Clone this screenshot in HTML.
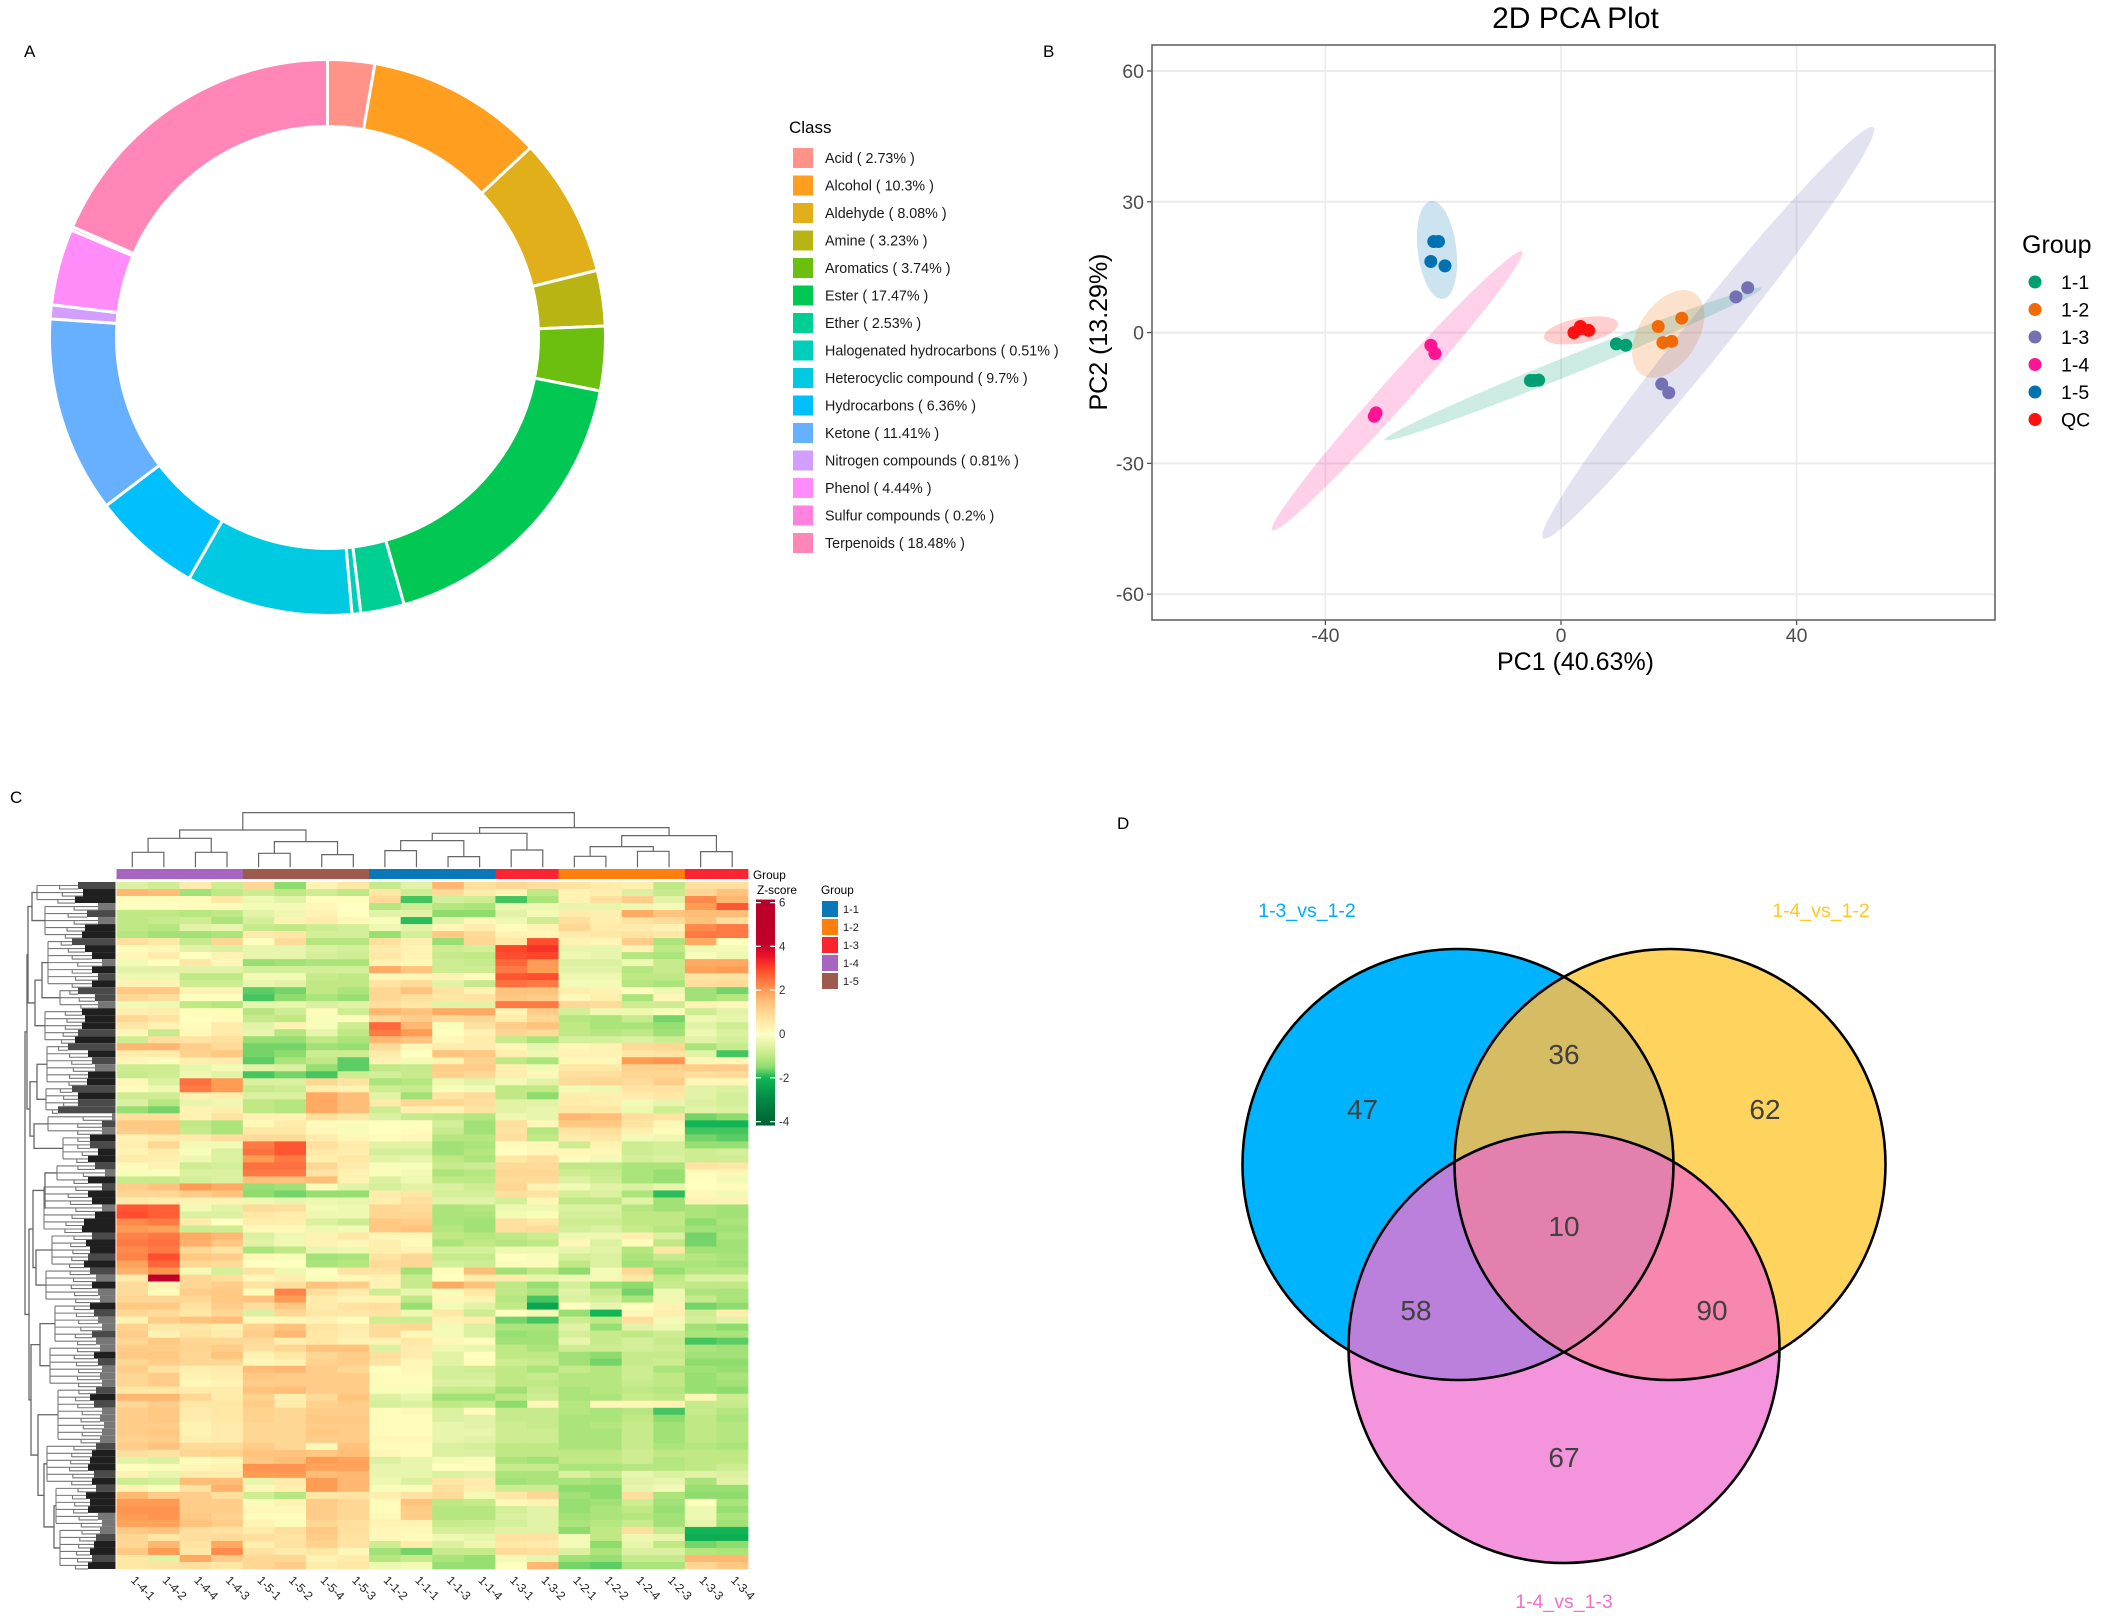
<!DOCTYPE html>
<html><head><meta charset="utf-8"><title>Metabolomics composite figure</title>
<style>
html,body{margin:0;padding:0;background:#fff}
svg{display:block;font-family:"Liberation Sans",sans-serif}
</style></head>
<body>
<svg id="fig" width="2101" height="1623" viewBox="0 0 2101 1623" xmlns="http://www.w3.org/2000/svg">
<defs>
<linearGradient id="zgrad" x1="0" y1="0" x2="0" y2="1"></linearGradient>
<clipPath id="c1"><circle cx="1458" cy="1164.5" r="215.5"/></clipPath>
<clipPath id="c2"><circle cx="1670" cy="1164.5" r="215.5"/></clipPath>
</defs>
<text x="24" y="57" font-size="17">A</text>
<text x="1043" y="57" font-size="17">B</text>
<text x="10" y="803" font-size="17">C</text>
<text x="1117" y="829" font-size="17">D</text>
<g id="donut"></g>
<g id="donutLegend"></g>
<g id="pca"></g>
<g id="heat"></g>
<g id="venn">
  <circle cx="1458" cy="1164.5" r="215.5" fill="#00B3FF"/>
  <circle cx="1670" cy="1164.5" r="215.5" fill="#FFD45E"/>
  <circle cx="1564" cy="1347.5" r="215.5" fill="#F394DC"/>
  <circle cx="1670" cy="1164.5" r="215.5" fill="#D6BC62" clip-path="url(#c1)"/>
  <circle cx="1564" cy="1347.5" r="215.5" fill="#BB80DC" clip-path="url(#c1)"/>
  <circle cx="1564" cy="1347.5" r="215.5" fill="#F787AE" clip-path="url(#c2)"/>
  <g clip-path="url(#c1)"><circle cx="1564" cy="1347.5" r="215.5" fill="#E480AE" clip-path="url(#c2)"/></g>
  <g fill="none" stroke="#000" stroke-width="2.6">
    <circle cx="1458" cy="1164.5" r="215.5"/>
    <circle cx="1670" cy="1164.5" r="215.5"/>
    <circle cx="1564" cy="1347.5" r="215.5"/>
  </g>
  <g font-size="28" fill="#404040" text-anchor="middle">
    <text x="1362.5" y="1119">47</text>
    <text x="1564" y="1064">36</text>
    <text x="1765" y="1119">62</text>
    <text x="1564" y="1236">10</text>
    <text x="1416" y="1320">58</text>
    <text x="1712" y="1320">90</text>
    <text x="1564" y="1467">67</text>
  </g>
  <g font-size="19.5" text-anchor="middle">
    <text x="1307" y="917" fill="#00AAFF">1-3_vs_1-2</text>
    <text x="1821" y="917" fill="#FFC823">1-4_vs_1-2</text>
    <text x="1564" y="1608" fill="#F070D0">1-4_vs_1-3</text>
  </g>
</g>
</svg>
<script>
/* ---------- Panel A data ---------- */
const classNames=["Acid","Alcohol","Aldehyde","Amine","Aromatics","Ester","Ether","Halogenated hydrocarbons","Heterocyclic compound","Hydrocarbons","Ketone","Nitrogen compounds","Phenol","Sulfur compounds","Terpenoids"];
const classShares=[2.73,10.3,8.08,3.23,3.74,17.47,2.53,0.51,9.7,6.36,11.41,0.81,4.44,0.2,18.48];
const classColors=["#FF9289","#FF9E1F","#E0AF1A","#B8B414","#6DBF0F","#00C853","#00CF94","#00CEBC","#00CAE2","#00BFFD","#66B0FF","#D29EFF","#FF8CF8","#FF82DD","#FF86B6"];

/* ---------- Panel B data ---------- */
const groupNames=["1-1","1-2","1-3","1-4","1-5","QC"];
const groupColors=["#009E73","#F06A05","#7570B3","#FF1493","#0072B2","#FF1010"];
const pc1Values=[[-5.2,-4.6,-3.8,9.4,11],[16.5,20.5,17.3,18.8],[29.7,31.7,17.1,18.3],[-22.1,-21.4,-31.7,-31.4],[-21.6,-20.8,-22.1,-19.7],[2.2,3.3,4.7,3.4]];
const pc2Values=[[-11,-11,-10.9,-2.6,-2.9],[1.4,3.3,-2.3,-2],[8.2,10.3,-11.8,-13.8],[-2.9,-4.8,-19.2,-18.4],[20.9,20.9,16.3,15.3],[0,1.4,0.5,0.9]];
const ellipseCx=[2.05,18.2,25,-27.8,-21.05,3.4];
const ellipseCy=[-7.2,-0.3,-0.05,-13.35,18.95,0.5];
const ellipseUx=[32.05,2.6,27.8,21.05,-0.85,6.3];
const ellipseUy=[17.4,10.06,47.25,32.05,11.25,1.44];
const ellipseVx=[0,5.55,4.7,3.2,3.3,0];
const ellipseVy=[2.3,0,0,0,0,2.9];
const pcaXTicks=[-40,0,40];
const pcaYTicks=[60,30,0,-30,-60];

/* ---------- Panel C data ---------- */
const colLabels=["1-4-1","1-4-2","1-4-4","1-4-3","1-5-1","1-5-2","1-5-4","1-5-3","1-1-2","1-1-1","1-1-3","1-1-4","1-3-1","1-3-2","1-2-1","1-2-2","1-2-4","1-2-3","1-3-3","1-3-4"];
const colGroups=["1-4","1-4","1-4","1-4","1-5","1-5","1-5","1-5","1-1","1-1","1-1","1-1","1-3","1-3","1-2","1-2","1-2","1-2","1-3","1-3"];
const heatGroupNames=["1-1","1-2","1-3","1-4","1-5"];
const heatGroupColors=["#0A78B8","#FF7F0E","#F82530","#A565C0","#9E5A4C"];
const zTicks=[6,4,2,0,-2,-4];
const zValues=[-4.2,-3,-2,-1.5,-1,-0.5,0,0.5,1,1.5,2,2.5,3,3.6,4.2,6.2];
const zColors=["#00602F","#008A45","#12B556","#8EDC6E","#C0E985","#E2F3A8","#FFFFBF","#FFEBAB","#FFD794","#FFBE78","#FF9C54","#FF7040","#FF4428","#E8102A","#C00028","#BA0028"];
/* merge height, child, child; leaves are [height, column, column] */
const topTree=[54.7,[37.3,[29,[15,0,1],[15,2,3]],[25.7,[14,4,5],[12.7,6,7]]],[39.7,[34,[26.7,[16.7,8,9],[10.7,10,11]],[17.3,12,13]],[31.7,[20.7,[11,14,15],[16,16,17]],[15.7,18,19]]]];
/* distance from the left page edge, child, child; leaves are [x, first row, end row] */
const leftTree=[25,[27,[28,[32,[37,0,3],[45,3,8]],[35,[42,[48,8,15],[60,15,18]],[45,18,23]]],[30,[37,[47,23,29],[46,29,33]],[34,[48,33,36],[63,36,40]]]],[29,[33,[45,[57,40,43],[44,43,50]],[36,[52,50,55],[46,55,60]]],[31,[40,[55,60,66],[50,66,72]],[38,[58,72,80],[44,[47,80,86],[54,[56,86,92],[60,92,98]]]]]]];
const leafEdge=[78,83,75,98,87,98,85,82,72,85,92,102,92,98,92,78,95,98,82,85,82,78,75,68,88,92,95,88,87,72,78,78,58,112,102,102,90,90,98,88,95,105,88,102,88,92,102,95,84,82,92,86,90,88,84,90,96,92,98,100,90,94,98,102,92,96,100,94,98,102,100,102,96,90,94,102,100,104,102,100,96,92,90,88,94,92,96,86,90,88,98,102,100,96,94,90,92,88];
const leafShade=[1,0,0,2,1,2,0,0,1,0,0,2,0,1,0,1,1,2,0,0,0,1,0,1,0,1,2,0,0,1,0,1,1,2,1,2,0,1,0,0,1,2,0,1,0,0,2,0,0,0,1,0,0,1,0,1,2,0,2,2,0,1,2,2,1,2,2,0,1,2,2,2,1,0,1,2,2,2,2,2,1,0,0,0,1,0,1,0,0,0,2,2,2,1,0,0,1,0];
const heatRows=[
[-.6,-.8,.5,-.8,1,-1.5,.3,.6,-.9,-.5,1.6,.8,1,.8,.7,.5,.4,-1,.8,.8],
[1.6,1.5,-1.3,-1,-.8,-1,-.8,-1,.6,-.8,.9,.5,.3,-1,.3,.4,-.6,-.9,1,1.4],
[.1,.1,.1,.6,-.3,-.5,.1,.1,.9,-1.8,-.7,-.8,-1.8,-1.2,.3,.8,1.2,-.5,2.2,1.6],
[0,0,.1,.1,-.2,-.2,.2,0,-1.1,-.8,-1.1,-1.2,-.3,-.3,-.4,-.4,-.3,-.2,2,2.8],
[-1,-1,-1.1,-1,-.5,-.3,.3,0,-.5,-.5,-1.5,-1.5,-.5,-.2,.5,.4,1.8,1.4,1.5,1.5],
[-1,-.9,-.8,-1.2,-.7,.3,.5,.2,-.1,-1.9,-.5,.2,-.3,-.8,.8,.4,.7,.9,1.4,.8],
[-1,-1.1,-.5,-.4,-.9,-1,-.8,-.7,-.3,-.5,.2,.5,.1,.3,1,.5,.5,.3,2.2,2.4],
[-1.1,-1.3,-1.3,-1.2,.5,.6,-.7,-.7,-1.4,-.7,1.3,.9,.3,.2,.5,.6,.7,.6,2.4,2.4],
[.8,.6,-.9,1,0,.9,-1.1,-1.1,.8,.4,-1.4,1,.6,2.9,.3,.2,1.2,-1.2,1.8,0],
[.1,.2,-.5,-.6,-.4,-.4,-.6,-.7,.5,.3,-.8,-.7,3,3.2,-.4,-.4,.3,-1,-.3,-.2],
[.2,.5,0,.3,-.4,-.4,-.7,-.8,.6,.3,-.9,-1,2.9,3,-.3,-.4,-1.1,-1.2,-.1,-.3],
[-.2,0,.6,.2,-1.4,-1.3,-1.2,-1.2,.3,.2,-.8,-.9,2.6,2,-.6,-.6,-.3,-.9,1.8,1.8],
[-.5,-.5,-.5,-.5,-.7,-.7,-.7,-.7,1.8,1.4,-.8,-.8,2.4,2,-.5,-.5,-1.1,-.9,1.9,2],
[-.3,-.3,-1,-1,-.2,-.2,-.9,-1,.2,.2,.3,.1,2.8,2.9,-.3,-.3,-1,-1,.7,.7],
[.3,.3,-.8,-.8,-.4,-.5,-1,-1,.7,.9,-.5,-.9,2.5,2.4,-.2,-.2,-1.1,-1.2,.8,.9],
[1.3,1.3,.3,.3,-1.7,-1.6,-1,-1.2,1,1.4,.7,.3,1.4,1.4,.4,.3,.1,-.3,-1.3,-1.6],
[1,.8,0,0,-1.8,-1.5,-1.2,-1.4,1,.8,.6,.7,1.3,1.2,.2,.4,-1.2,.2,-1.3,-1.1],
[-.2,-.3,-1,-1.1,-.4,-.4,-.6,-.5,.8,.6,-.5,-.5,2.4,2.4,1,.9,-.8,-.8,.3,.2],
[.4,.5,.1,.1,-1.1,-.8,.1,-.8,1.6,1.4,1.8,1.8,.3,1.2,-.7,-.3,-.3,-.1,-.8,-.5],
[1,.7,0,.1,-.9,-1,-.1,.1,.9,1.2,.9,1,.5,1,-1.1,-1.2,-.9,-1.6,-.3,-.4],
[.6,.3,.1,.5,-.5,.3,-.1,-.8,2.6,1.6,-.1,.7,1.2,1.4,-1,-1.2,-1.2,-1.4,-.5,-.8],
[.2,-.9,.2,.5,-.4,-1.1,-.4,-1,2.4,2,0,.3,1,.9,-1,-1.1,-1,-1.3,-.3,-.6],
[-.8,.8,.7,.8,-1.4,-1.4,-1,-1.2,1.6,1.4,.2,.5,-.9,-1.2,-.7,-.7,-.6,-.8,-.5,-.7],
[1.6,1.6,1.2,.9,-1.6,-1.6,-1.3,-1.4,.9,.2,.5,.5,.2,-.4,.2,.3,.9,1,-1.2,-.9],
[.5,.5,1.1,1.3,-1.6,-1.5,-.8,-.8,.5,0,1.4,1.3,.4,-.3,.3,.3,.6,.7,-.5,-1.8],
[.2,.1,.4,.5,-1.7,-1.2,-1,-1.7,.3,-.2,.3,1.1,-1,-1.2,.2,.2,2,2.1,.2,.2],
[-.8,-.8,-.4,-.2,-.5,-.6,-1.4,-1.7,-1,-.9,1.2,1.2,.4,-.2,.6,.6,1.1,1.1,1.2,1.2],
[-.9,-.8,-.3,-.5,-1.8,-1.6,-1.8,-.8,-.7,-.9,1.1,1,.4,.2,.8,.8,1,1,.8,.9],
[.2,-.6,2.5,2,-.6,-.6,1,.7,-1.2,-1.1,-.3,-.5,-.2,-.5,.9,1,.9,1.2,.2,.2],
[.1,-.3,2.4,2,-.9,-.8,.4,.3,-.8,-.9,-.1,-.2,-1,-1,-.2,-.3,.7,.7,-.5,-.6],
[-.8,-.8,.3,.4,-.6,-.6,1.8,1.5,-.5,-1.3,.7,.9,-1,-1.5,.4,.4,.5,.6,-.5,-.7],
[-.6,-1.1,-.4,-.3,-1,-1.1,1.8,1.5,.5,1,1,.8,-.5,-.5,.5,.4,-.2,-.4,-.6,-.7],
[-1.4,-1.6,.3,.4,-1,-1.1,1.8,1.5,-.8,.4,.3,.7,-.5,-.4,.6,.6,-.3,-.8,-.5,-.6],
[.8,.8,.3,.7,.3,.3,.8,.6,-.6,-.9,-1,-1.1,-.3,-.4,1.6,1.5,.8,.7,-1.6,-1.5],
[1.3,1.3,-1,-1.2,.2,.5,.1,-.1,0,0,-.7,-1.3,.8,.2,1.3,1.3,.7,.2,-2,-2],
[1.2,1.3,-.9,-1.2,.6,.6,.2,-.1,0,.1,-.9,-1.3,.7,-1.1,.7,.8,.4,.1,-1.8,-1.8],
[.3,.5,.5,.8,.9,.9,.5,.2,.1,.2,-1.1,-1.1,.8,-1,.5,.6,-.2,-.3,-1.6,-1.7],
[.4,1,-.2,-.2,2.4,2.8,.8,.5,-.5,-.5,-1.3,-1.2,.1,.2,-.8,.3,-.8,-.7,-1.4,-1.4],
[.3,.5,-.1,-.6,2.5,2.8,.6,.4,-.7,-.7,-1.3,-1.1,0,.2,.2,.2,-.8,-.7,-.8,-.7],
[.5,.4,-.3,-.6,2,2.4,.4,.6,-.5,-.4,-1,-1.2,.6,.8,.1,-.2,-.7,-.6,-.8,-.8],
[.1,.3,-.8,-.7,2.5,2.5,1,.5,-.1,-.1,-.9,-.8,.9,.9,-1,-1,-1.2,-1.2,.7,.6],
[-.1,-.1,-.6,-.6,2.4,2.4,.7,.3,-.1,-.2,-1.2,-1.1,1,1,-.8,-.9,-1.2,-1.4,.1,.2],
[-.9,-.9,-.7,-.6,1.4,1.4,1.5,.3,-.6,-.3,-1,-1,.9,.9,-.6,-.8,-1.2,-1.4,0,-.2],
[1.2,1.4,2,1.8,-1.4,-1.3,-.1,-.5,-.7,-.5,-.6,-.8,1,.3,-.2,-.5,-.6,-.4,0,.1],
[1,1,1.2,1.4,-1.5,-1.6,-1.4,-1.4,.5,.6,-.7,-.7,.8,.7,-.7,-.6,-1.2,-1.9,.2,-.2],
[.5,.4,.3,.3,-.3,-.4,-.3,-.4,.4,.8,-.5,-.5,-.7,.2,-1,-1,-.5,-1.3,.3,.3],
[2.8,2.7,-.2,-.5,.9,.8,-.2,-.3,1,.9,-1.2,-1.1,-.3,-.3,-.6,-.6,-1.1,-1.3,-1.2,-1.3],
[2.9,2.7,-.6,-.6,.6,.5,-.3,-.3,1,1,-1.2,-1.2,-.2,-.1,-.7,-.7,-1,-1,-1.2,-1.3],
[2.2,2.4,.5,0,.4,.4,-.6,-.8,1.3,1.2,-1.2,-1.3,.8,.6,-.8,-.8,-1,-1,-1.5,-1.2],
[2,1.9,-.8,-.8,.2,.2,-.3,-.2,1.3,1.4,-1.1,-1.3,.8,.9,-.7,-.6,-.9,-1.1,-1.3,-1.3],
[2.3,2.4,1.8,1.6,-.6,-.3,.3,.6,.2,.2,-1,-1.1,-1,-.8,-.3,-.3,.4,-.6,-1.6,-1.2],
[2.4,2.5,1.7,1.3,-.5,-.3,.3,.2,.4,.1,-1.2,-1,-1.1,-1,.2,-.6,.1,-1,-1.6,-1.3],
[2.2,2.4,1,.7,-1.2,-1,-.4,-.3,.4,.3,-.7,-.7,-.3,-.3,-.4,-.5,-1.1,.6,-1.3,-1.3],
[2.3,2.9,1.3,1.2,.2,-.1,-1.3,-1.2,.7,1,-.9,-.9,0,-.1,-.7,-.6,-1.2,-.9,-1.1,-1.2],
[1.9,2.6,1,.9,0,0,-1.2,-1.1,.9,1,-.7,-.8,-.1,.1,-1,-.6,-1.3,-1.2,-1.2,-1.3],
[1.7,2.1,-.2,-.7,.7,-.3,0,.7,.7,-1.3,.1,1.5,-1.3,-1,-1.5,-.2,1,-1.4,-1.1,-1.1],
[.5,4.2,1,.8,.2,.4,-.1,.2,.3,-.9,0,.5,.5,-.4,-.3,-.2,.6,-1,-.6,-.6],
[.9,.3,1,1.2,.7,.8,1.4,1.2,.3,-.9,1.8,1.4,-1,-1.4,-.7,-1.3,-1.5,-.9,-1,-1],
[.9,.1,1.2,1.3,.1,2.3,.8,.5,-.8,-.4,-.1,.6,-1,-1.2,-.5,-.9,-1.6,-.3,-1.2,-1.2],
[1,1,1,1.3,1.4,2,.5,.3,.3,-1,.2,.3,-1.1,-1.8,-.6,-.7,-1.2,-.3,-.9,-1.2],
[1.3,1.3,.7,1.2,.8,1.3,.5,.7,.8,-1.4,-.2,-.5,-1,-2.4,0,-.4,0,.3,-1.6,-1.5],
[1,.9,.6,1,-.6,1,.6,.6,.7,-.3,.6,-.8,0,-.2,-1.4,-2,.2,.4,-.8,.4],
[.3,1.2,1.4,1.5,.2,.2,.3,.1,-.8,-.8,.3,.5,-1.6,-1.8,-.8,-1,.8,-.2,-.7,-.5],
[1.1,.6,.6,.4,1.1,1.4,.7,.5,.9,1,-.2,-.6,-1.2,-1.2,-.5,-1.4,-.5,-.3,-1.3,-1.5],
[1.2,.3,.7,.5,1.2,1.6,.6,.4,.9,.2,-.2,-.6,-1.4,-1.3,-.7,-.9,-1,-.8,-1.2,-1.2],
[1,1.3,1,1,.9,.4,.6,.3,.3,.6,.2,.1,-1.3,-1.3,-.4,-.9,-.7,-.9,-1.8,-1.7],
[1.2,1.2,1.1,1.2,.8,1,1.4,1.4,-.6,.5,-.3,-.4,-1,-1.2,-.8,-.8,-.7,-.8,-1.2,-1.3],
[1.3,1.3,1,1.4,.3,.6,1,1.2,.8,.5,-.5,0,-1,-1,-1.3,-1.5,-.9,-.9,-1.3,-1.3],
[1,1.2,1,1,.2,.3,1.1,1.2,.7,.2,-.5,.1,-.8,-.9,-1.3,-1.6,-.9,-.8,-1.5,-1.5],
[1.2,.7,.4,.5,1.5,1.6,1.2,1,0,.2,-.7,-.8,-1,-1.2,-.9,-1.1,-.8,-1.2,-1.3,-1.4],
[1,1.2,.3,.4,1.3,1.2,1.2,1.2,.1,.1,-.7,-.7,-1,-.9,-1.1,-1.1,-.8,-1,-1.4,-1.2],
[1,1.2,.2,.3,1.2,1.2,1.2,1.2,.1,.1,-.6,-.6,-1,-1,-1.1,-1.1,-.9,-1,-1.4,-1.3],
[.6,.6,.5,.5,1.4,1.5,1.2,1.2,-.1,-.1,-.9,-.9,-1.3,-.9,-1.2,-1.1,-1,-1.1,-1.4,-1.5],
[1.6,1.6,1,.5,1.1,.4,.9,1.4,-.6,-.4,-1.3,-1.3,-1,-.8,-1.2,-1.2,-.9,-1,.2,-.8],
[1,1.2,.6,.6,1.2,.5,1.1,1.2,-.7,-.6,-1,-.9,-1.5,.2,-1.1,.2,.2,.3,-.9,-.9],
[1.2,1.3,.5,.6,1.1,1,1.2,1.2,.1,.2,-.6,.1,-.9,-.9,-1.1,-1.2,-1.1,-1.8,-.9,-1.1],
[1.2,1.3,.5,.6,1.1,1,1.3,1.3,.1,.1,-.6,-.5,-.9,-.9,-1.2,-1.2,-1,-1.5,-1,-1.2],
[1.2,1.2,.3,.5,1,1,1.2,1.2,.1,.1,-.4,-.5,-.8,-.9,-1.2,-1.1,-.9,-1.3,-1,-1.1],
[1.2,1.3,.3,.5,1,1,1.3,1.2,.1,.1,-.4,-.4,-.8,-.8,-1.2,-1.2,-.9,-1.3,-1,-1.1],
[1.1,1.2,.4,.5,1,1,1.2,1.2,.2,.2,-.4,-.5,-.8,-.8,-1.2,-1.2,-.9,-1.3,-1,-1.1],
[1.2,1.4,.9,.9,1.2,1,.2,1.4,.1,.1,-.6,-.7,-1,-1,-1.2,-1.2,-.9,-1.2,-1.1,-1.2],
[.8,.7,1,1.1,1.4,1.4,1.3,1.5,.2,.1,-.6,-.6,-1,-1,-1,-1,-.8,-1,-1,-1],
[-.5,-.6,.1,.2,1.3,1.5,2,1.9,-.6,-.4,-.2,-.1,-1.2,-1.3,-1,-1,-.8,-1.1,-1,-1],
[0,-.1,.2,.3,2.1,2.1,1.9,1.9,-.4,-.4,0,.1,-.9,-.9,-1.2,-1.2,-1.1,-1.1,-1,-.8],
[.3,-.4,.5,.5,2,2,1.5,1.6,-.4,-.4,-.6,-.5,-1.2,-1.2,-.6,-.9,-.4,-.6,-.5,-.6],
[-.8,-.7,1.5,1.5,-.4,.5,2,1.6,-.3,-.6,.6,.5,-1.3,-1.2,-1.2,-1.3,-.5,-.4,-1.2,-.5],
[.3,-.1,.7,1.7,.2,.4,2,1.6,-.1,-.1,.8,.5,-.8,-.8,-1.5,-1.5,-.4,-.2,-1.4,-1.4],
[1.6,1.2,1.2,.8,-.8,-1.1,.6,.7,.4,.7,.9,-.2,.6,1,-1.3,-1.5,.8,-1.2,-1.5,-1.5],
[2,2,1.2,1.2,-.1,.3,1.2,1,.1,1.4,-1,-.9,.2,.3,-1.4,-1.3,-.8,-1.3,0,-1.2],
[2.1,2.1,1.2,1.2,.2,.2,1.2,1,.1,1.2,-1.1,-1.1,-.7,-.5,-1.4,-1.2,-1,-1.4,-.3,-1.4],
[2,2.1,1.3,1.1,.1,.1,1.2,1,.2,1.2,-1.1,-1.1,-.6,-.5,-1.3,-1.2,-1.1,-1.3,-.3,-1.2],
[1.9,1.9,1.4,1.2,.3,-.1,1,.8,.3,.3,-.9,-.8,-.7,-.5,-1.2,-1.1,-.9,-1.3,-.4,-1.3],
[1.3,1.4,.8,.7,.5,.8,1.3,.8,.2,.2,-.7,-.7,-.5,-.5,-1.5,-1,.8,-.9,-2,-2],
[1,.6,.8,.9,.8,.7,1.2,.7,.2,.1,-.3,-.4,.7,.7,-.2,-1,-.3,-.4,-2.2,-2.2],
[1,1.6,.7,1.8,.4,.7,1.1,.7,-.8,.5,-.6,-.3,.6,.5,-.2,-1.5,-.4,-1,-1.6,-1.5],
[1.3,2,.6,2.2,.7,.5,.6,.2,-1.3,-1.6,-.9,-.9,.9,.8,-.6,-1.2,-.6,-.6,-1.1,-1.2],
[.6,-.5,1.8,1.2,1,1,.3,.5,-1.1,-.9,-1.2,-1.4,-.2,-.4,-1.3,-1.4,-.9,-.9,1.6,1.6],
[.6,.7,.8,.6,1,1.2,.5,.6,-.3,-.2,-1.4,-1.4,0,1.6,-1.6,-1.7,-1.2,-1.2,1,1.3]
];

/* ---------- helpers ---------- */
const NS="http://www.w3.org/2000/svg";
function mk(tag,attrs,parent,txt){
  const e=document.createElementNS(NS,tag);
  for(const k in attrs)e.setAttribute(k,attrs[k]);
  if(txt!==undefined)e.textContent=txt;
  parent.appendChild(e);
  return e;
}

/* ---------- Panel A ---------- */
(function(){
  const cx=327.5,cy=337.5,R=278,r=211;
  const total=classShares.reduce((a,b)=>a+b,0);
  const g=document.getElementById('donut');
  let acc=0;
  classShares.forEach(function(v,i){
    const a0=acc/total*2*Math.PI; acc+=v; const a1=acc/total*2*Math.PI;
    const large=(a1-a0)>Math.PI?1:0;
    const p=(rad,a)=>(cx+rad*Math.sin(a)).toFixed(2)+' '+(cy-rad*Math.cos(a)).toFixed(2);
    const d='M'+p(R,a0)+'A'+R+' '+R+' 0 '+large+' 1 '+p(R,a1)+'L'+p(r,a1)+'A'+r+' '+r+' 0 '+large+' 0 '+p(r,a0)+'Z';
    const s=mk('path',{d:d,fill:classColors[i],stroke:'#fff','stroke-width':3},g);
    
    
  });
  const l=document.getElementById('donutLegend');
  const t=mk('text',{x:789,y:133,'font-size':17},l,'Class');
  
  
  classNames.forEach(function(n,i){
    const y=158+i*27.5;
    const sw=mk('rect',{x:793,y:y-10,width:20,height:20,fill:classColors[i]},l);
    
    
    const tx=mk('text',{x:825,y:y+5,'font-size':14.3,fill:'#1a1a1a'},l,n+' ( '+classShares[i]+'% )');
    
    
  });
})();

/* ---------- Panel B ---------- */
(function(){
  const g=document.getElementById('pca');
  const L=1152,Rt=1995,T=45,B=620;
  const X=v=>1561+v*5.89, Y=v=>332.6-v*4.36;
  const bg=mk('rect',{x:L,y:T,width:Rt-L,height:B-T,fill:'#fff'},g);
  
  
  pcaXTicks.forEach(function(v){
    const gl=mk('line',{x1:X(v),x2:X(v),y1:T,y2:B,stroke:'#ebebeb','stroke-width':1.6},g);
    
    
    const tk=mk('line',{x1:X(v),x2:X(v),y1:B,y2:B+5,stroke:'#555','stroke-width':1.3},g);
    
    
    const tl=mk('text',{x:X(v),y:B+22,'font-size':19.5,fill:'#4d4d4d','text-anchor':'middle'},g,String(v));
    
    
  });
  pcaYTicks.forEach(function(v){
    const gl=mk('line',{x1:L,x2:Rt,y1:Y(v),y2:Y(v),stroke:'#ebebeb','stroke-width':2},g);
    
    
    const tk=mk('line',{x1:L-5,x2:L,y1:Y(v),y2:Y(v),stroke:'#555','stroke-width':1.3},g);
    
    
    const tl=mk('text',{x:L-8,y:Y(v)+7,'font-size':19.5,fill:'#4d4d4d','text-anchor':'end'},g,String(v));
    
    
  });
  groupNames.forEach(function(n,i){
    const pts=[];
    for(let k=0;k<72;k++){
      const t=k/72*2*Math.PI;
      const dx=ellipseCx[i]+Math.cos(t)*ellipseUx[i]+Math.sin(t)*ellipseVx[i];
      const dy=ellipseCy[i]+Math.cos(t)*ellipseUy[i]+Math.sin(t)*ellipseVy[i];
      pts.push(X(dx).toFixed(1)+','+Y(dy).toFixed(1));
    }
    const e=mk('polygon',{points:pts.join(' '),fill:groupColors[i],'fill-opacity':0.2},g);
    
    
  });
  groupNames.forEach(function(n,i){
    pc1Values[i].forEach(function(v,j){
      const c=mk('circle',{cx:X(v),cy:Y(pc2Values[i][j]),r:6.5,fill:groupColors[i]},g);
      
      
    });
  });
  const fr=mk('rect',{x:L,y:T,width:Rt-L,height:B-T,fill:'none',stroke:'#666','stroke-width':1.6},g);
  
  
  const ti=mk('text',{x:1575.5,y:28,'font-size':30,'text-anchor':'middle'},g,'2D PCA Plot');
  
  
  const xl=mk('text',{x:1575.5,y:670,'font-size':25,'text-anchor':'middle'},g,'PC1 (40.63%)');
  
  
  const yl=mk('text',{transform:'translate(1107,332) rotate(-90)','font-size':25,'text-anchor':'middle'},g,'PC2 (13.29%)');
  
  
  const lt=mk('text',{x:2022,y:253,'font-size':25},g,'Group');
  
  
  groupNames.forEach(function(n,i){
    const y=282+i*27.5;
    const d=mk('circle',{cx:2035,cy:y,r:6.5,fill:groupColors[i]},g);
    
    
    const t=mk('text',{x:2061,y:y+7,'font-size':19.5},g,n);
    
    
  });
})();

/* ---------- Panel C ---------- */
(function(){
  const g=document.getElementById('heat');
  const HL=116.5,HR=748,HT=882;
  const cw=(HR-HL)/colLabels.length, rh=7.01;
  const colX=i=>HL+i*cw, rowY=r=>HT+r*rh;
  function hex(c){return [parseInt(c.slice(1,3),16),parseInt(c.slice(3,5),16),parseInt(c.slice(5,7),16)];}
  function color(v){
    let i=0; while(i<zValues.length-2&&v>zValues[i+1])i++;
    const t=Math.max(0,Math.min(1,(v-zValues[i])/(zValues[i+1]-zValues[i])));
    const a=hex(zColors[i]),b=hex(zColors[i+1]);
    return 'rgb('+a.map((x,k)=>Math.round(x+(b[k]-x)*t)).join(',')+')';
  }
  heatRows.forEach(function(row,r){
    row.forEach(function(v,c){
      const cell=mk('rect',{x:colX(c).toFixed(2),y:rowY(r).toFixed(2),width:(cw+.4).toFixed(2),height:rh+.3,fill:color(v)},g);
      
      
    });
  });
  colGroups.forEach(function(n,i){
    const b=mk('rect',{x:colX(i),y:869,width:cw+.4,height:10,fill:heatGroupColors[heatGroupNames.indexOf(n)]},g);
    
    
  });
  colLabels.forEach(function(n,i){
    const x=colX(i)+cw/2-2,y=1581;
    const t=mk('text',{transform:'translate('+x+','+y+') rotate(45)','font-size':12,fill:'#222'},g,n);
    
    
  });
  /* top dendrogram */
  const topY=h=>867.3-h;
  function drawTop(n){
    if(typeof n[1]==='number'){
      const xa=colX(n[1])+cw/2,xb=colX(n[2])+cw/2,y=topY(n[0]);
      const p=mk('path',{d:'M'+xa+' '+topY(0)+'V'+y+'H'+xb+'V'+topY(0),fill:'none',stroke:'#666','stroke-width':1.2},g);
      
      
      return {x:(xa+xb)/2,y:y};
    }
    const a=drawTop(n[1]),b=drawTop(n[2]),y=topY(n[0]);
    const p=mk('path',{d:'M'+a.x+' '+a.y+'V'+y+'H'+b.x+'V'+b.y,fill:'none',stroke:'#666','stroke-width':1.2},g);
    
    
    return {x:(a.x+b.x)/2,y:y};
  }
  drawTop(topTree);
  /* left dendrogram */
  const shades=['#1f1f1f','#4a4a4a','#777777'];
  leafEdge.forEach(function(x,r){
    const b=mk('rect',{x:x,y:rowY(r),width:115.5-x,height:rh,fill:shades[leafShade[r]]},g);
    
    
  });
  function drawLeft(n){
    if(typeof n[1]==='number'){
      const x=n[0]; let d='';
      for(let r=n[1];r<n[2];r++){
        const yr=rowY(r)+rh/2;
        const mx=x+(leafEdge[r]-x)*0.55;
        d+='M'+x+' '+yr+'H'+leafEdge[r];
        d+='M'+mx+' '+yr+'V'+(yr+rh/2)+'H'+leafEdge[r];
      }
      const y0=rowY(n[1])+rh/2,y1=rowY(n[2]-1)+rh/2;
      d+='M'+x+' '+y0+'V'+y1;
      const p=mk('path',{d:d,fill:'none',stroke:'#777','stroke-width':1.1},g);
      
      
      return {x:x,y:(y0+y1)/2};
    }
    const a=drawLeft(n[1]),b=drawLeft(n[2]),x=n[0];
    const p=mk('path',{d:'M'+a.x+' '+a.y+'H'+x+'V'+b.y+'H'+b.x,fill:'none',stroke:'#666','stroke-width':1.3},g);
    
    
    return {x:x,y:(a.y+b.y)/2};
  }
  drawLeft(leftTree);
  /* colour bar */
  const grad=document.getElementById('zgrad');
  const zTop=6.14,zBot=-4.18;
  zValues.slice().reverse().forEach(function(v,i){
    const st=mk('stop',{offset:Math.max(0,Math.min(1,(zTop-v)/(zTop-zBot))),'stop-color':zColors[zValues.length-1-i]},grad);
    
    
  });
  const zY=v=>1034-v*21.9;
  const bar=mk('rect',{x:756,y:zY(zTop),width:19,height:zY(zBot)-zY(zTop),fill:'url(#zgrad)'},g);
  
  
  zTicks.forEach(function(v){
    const a=mk('path',{d:'M756 '+zY(v)+'h5M770 '+zY(v)+'h5',stroke:'#fff','stroke-width':1.2},g);
    
    
    const t=mk('text',{x:779,y:zY(v)+4,'font-size':11.5,fill:'#333'},g,String(v));
    
    
  });
  const t1=mk('text',{x:753,y:879,'font-size':11.8},g,'Group');
  
  
  const t2=mk('text',{x:757,y:894,'font-size':11.8},g,'Z-score');
  
  
  const t3=mk('text',{x:821,y:894,'font-size':11.8},g,'Group');
  
  
  heatGroupNames.forEach(function(n,i){
    const y=901+i*18;
    const s=mk('rect',{x:822,y:y,width:16,height:16,fill:heatGroupColors[i]},g);
    
    
    const t=mk('text',{x:843,y:y+12,'font-size':11,fill:'#222'},g,n);
    
    
  });
})();
</script>
</body></html>
